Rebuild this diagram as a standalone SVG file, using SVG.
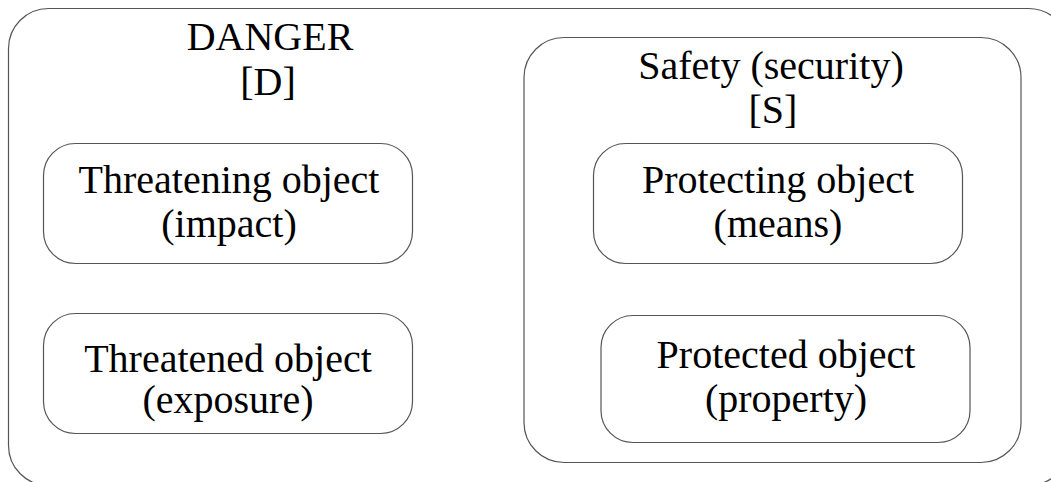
<svg xmlns="http://www.w3.org/2000/svg" width="1051" height="482" viewBox="0 0 1051 482">
<style>
.box{fill:none;stroke:#555;stroke-width:1.2}
text{font-family:'Liberation Serif','Times New Roman','DejaVu Serif',serif;font-size:40px;fill:#000;text-anchor:middle}
</style>
<rect width="1051" height="482" fill="#fff"/>
<g id="danger">
<rect class="box" x="8.5" y="8.5" width="1060" height="477" rx="40" ry="40"/>
<text x="270" y="50" font-family="Liberation Serif">DANGER</text>
<text x="268" y="95" font-family="Liberation Serif">[D]</text>
</g>
<g id="safety">
<rect class="box" x="524" y="37.5" width="497" height="425" rx="40" ry="40"/>
<text x="771" y="79" font-family="Liberation Serif">Safety (security)</text>
<text x="773" y="123" font-family="Liberation Serif">[S]</text>
</g>
<g id="threatening">
<rect class="box" x="43.5" y="143.5" width="369" height="120" rx="32" ry="32"/>
<text x="229" y="193" font-family="Liberation Serif">Threatening object</text>
<text x="229" y="237" font-family="Liberation Serif">(impact)</text>
</g>
<g id="threatened">
<rect class="box" x="43.5" y="313.5" width="369" height="120" rx="32" ry="32"/>
<text x="228" y="372" font-family="Liberation Serif">Threatened object</text>
<text x="228" y="413" font-family="Liberation Serif">(exposure)</text>
</g>
<g id="protecting">
<rect class="box" x="593.5" y="143.5" width="369" height="120" rx="32" ry="32"/>
<text x="778" y="193" font-family="Liberation Serif">Protecting object</text>
<text x="778" y="237" font-family="Liberation Serif">(means)</text>
</g>
<g id="protected">
<rect class="box" x="601" y="315.5" width="369" height="127" rx="32" ry="32"/>
<text x="786" y="368" font-family="Liberation Serif">Protected object</text>
<text x="786" y="412" font-family="Liberation Serif">(property)</text>
</g>
<g id="connectors"></g>
</svg>
